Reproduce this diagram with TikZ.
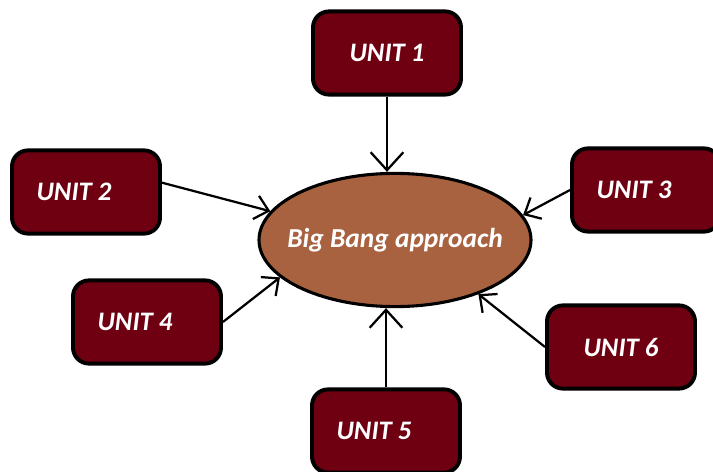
\documentclass[tikz,border=0pt]{standalone}
\usepackage{fontspec}
\setmainfont{Carlito}
\usetikzlibrary{positioning,shapes.geometric,arrows.meta}

\definecolor{unitred}{RGB}{110,0,18}
\definecolor{bangbrown}{RGB}{168,98,64}

\tikzset{
  unit/.style={draw=black, line width=2.8pt, fill=unitred, rounded corners=0.4cm,
    minimum width=3.7cm, minimum height=2.08cm, text=white,
    font=\fontsize{19}{22}\selectfont\bfseries\itshape},
  lefttext/.style={execute at end node={\hspace{0.6cm}}},
  bang/.style={ellipse, draw=black, line width=2.2pt, fill=bangbrown, inner sep=0pt,
    minimum width=6.8cm, minimum height=3.33cm, text=white,
    font=\fontsize{19.5}{22}\selectfont\bfseries\itshape},
  conn/.style={line width=1.6pt, ->, >={Straight Barb[length=0.33cm,width=0.6cm]}},
  bigconn/.style={conn, >={Straight Barb[length=0.45cm,width=0.82cm]}}
}

\begin{document}
\begin{tikzpicture}[node distance=2cm,on grid]
            \useasboundingbox[fill=white] (0,0) rectangle (17.825,11.8);
            \node[bang] (bb) at (9.875,5.8) {\makebox[0pt]{Big Bang approach}};
            \node[unit, above left=4.675cm and 0.2cm of bb] (u1) {UNIT 1};
            \node[unit, lefttext, above left=1.2cm and 7.725cm of bb] (u2) {UNIT 2};
            \node[unit, lefttext, above right=1.25cm and 6.275cm of bb] (u3) {UNIT 3};
            \node[unit, lefttext, below left=2.05cm and 6.2cm of bb] (u4) {UNIT 4};
            \node[unit, lefttext, below left=4.775cm and 0.225cm of bb] (u5) {UNIT 5};
            \node[unit, below right=2.675cm and 5.65cm of bb] (u6) {UNIT 6};
            \draw[bigconn] (u1.south) -- (u1.south |- bb.north);
            \draw[bigconn] (u5.north) -- (u5.north |- bb.south);
            \draw[conn] (u2.7) -- (bb.167);
            \draw[conn] (u3.west) -- (bb.11);
            \draw[conn] (u4.east) -- (bb.198);
            \draw[conn] (u6.west) -- (bb.327);
        \end{tikzpicture}
\end{document}
